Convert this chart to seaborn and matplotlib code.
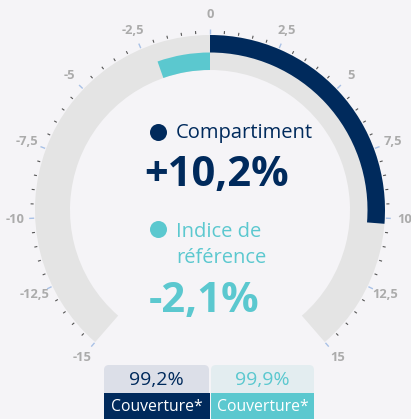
import numpy as np
import matplotlib
matplotlib.use("Agg")
import matplotlib.pyplot as plt
from matplotlib.patches import FancyBboxPatch, Rectangle
import seaborn as sns

# ---- data ----
gauge_min, gauge_max = -15.0, 15.0
fund_value = 10.2
index_value = -2.1
fund_label = "Compartiment"
fund_text = "+10,2%"
index_label = ["Indice de", "référence"]
index_text = "-2,1%"
major_ticks = [-15, -12.5, -10, -7.5, -5, -2.5, 0, 2.5, 5, 7.5, 10, 12.5, 15]
major_labels = ["-15", "-12,5", "-10", "-7,5", "-5", "-2,5", "0",
                "2,5", "5", "7,5", "10", "12,5", "15"]
minor_step = 0.5
coverage_values = ["99,2%", "99,9%"]
coverage_labels = ["Couverture*", "Couverture*"]

# ---- style ----
sns.set_theme(style="white")
plt.rcParams["font.family"] = ["Open Sans", "DejaVu Sans"]

BG = "#F5F4F7"
GRAY = "#E4E4E4"
NAVY = "#002A5C"
TEAL = "#5BC8CF"
LBL = "#ABABAB"
MAJ_TICK = "#A9C1E6"
MIN_TICK = "#555555"

W, H = 411, 419
fig = plt.figure(figsize=(W / 100, H / 100), dpi=100, facecolor=BG)

SPAN = np.deg2rad(139.0)  # angle for gauge_max


def th(v):
    return v / gauge_max * SPAN


# polar axes, centre at (210, 210) px, r in px
cx, cy, RMAX = 210, 210, 200
ax = fig.add_axes([(cx - RMAX) / W, (H - cy - RMAX) / H, 2 * RMAX / W, 2 * RMAX / H],
                  projection="polar")
ax.set_theta_zero_location("N")
ax.set_theta_direction(-1)
ax.set_ylim(0, RMAX)
ax.axis("off")

R_IN, R_MID, R_OUT = 140, 157.5, 175

# background band
ax.bar(th(gauge_min), R_OUT - R_IN, width=th(gauge_max) - th(gauge_min),
       bottom=R_IN, align="edge", color=GRAY, linewidth=0)
# fund (outer half)
ax.bar(th(0), R_OUT - R_MID, width=th(fund_value) - th(0), bottom=R_MID,
       align="edge", color=NAVY, linewidth=0)
# index (inner half)
ax.bar(th(min(index_value, 0)), R_MID - R_IN, width=abs(th(index_value)),
       bottom=R_IN, align="edge", color=TEAL, linewidth=0)

# ticks
minor = np.arange(gauge_min, gauge_max + 1e-9, minor_step)
minor = [m for m in minor if not any(abs(m - t) < 1e-9 for t in major_ticks)]
ax.vlines([th(m) for m in minor], 176.5, 179.5, color=MIN_TICK, linewidth=0.8)
ax.vlines([th(t) for t in major_ticks], 176, 181, color=MAJ_TICK, linewidth=1.0)
for t, lab in zip(major_ticks, major_labels):
    ax.text(th(t), 195, lab, ha="center", va="center", fontsize=9.3,
            fontweight="bold", color=LBL)

# overlay axes in pixel coordinates for text + boxes
ov = fig.add_axes([0, 0, 1, 1])
ov.set_xlim(0, W)
ov.set_ylim(H, 0)
ov.axis("off")
ov.patch.set_alpha(0)

ov.scatter([158], [132], s=150, color=NAVY, linewidths=0)
ov.text(176, 138, fund_label, ha="left", va="baseline", fontsize=14.5, color=NAVY)
ov.text(217, 186, fund_text, ha="center", va="baseline", fontsize=30,
        fontweight="bold", color=NAVY)

ov.scatter([158], [229], s=150, color=TEAL, linewidths=0)
ov.text(176, 237, index_label[0], ha="left", va="baseline", fontsize=14.5, color=TEAL)
ov.text(176, 263, index_label[1], ha="left", va="baseline", fontsize=14.5, color=TEAL)
ov.text(204, 312, index_text, ha="center", va="baseline", fontsize=30,
        fontweight="bold", color=TEAL)

# coverage boxes
boxes = [(104, 209, "#DCDFE8", NAVY, NAVY), (211, 314, "#E3EDF0", TEAL, TEAL)]
for (x0, x1, topc, txtc, botc), val, lab in zip(boxes, coverage_values, coverage_labels):
    ov.add_patch(FancyBboxPatch((x0, 365), x1 - x0, 54,
                                boxstyle="round,pad=0,rounding_size=5",
                                facecolor=topc, edgecolor="none"))
    ov.add_patch(Rectangle((x0, 393), x1 - x0 + (1 if x0 < 200 else 0), 26,
                           facecolor=botc, edgecolor="none"))
    xm = (x0 + x1) / 2
    ov.text(xm, 380, val, ha="center", va="center", fontsize=14, color=txtc)
    ov.text(xm, 407, lab, ha="center", va="center", fontsize=11.3, color="white")

fig.savefig("out.png", dpi=100, facecolor=BG)
